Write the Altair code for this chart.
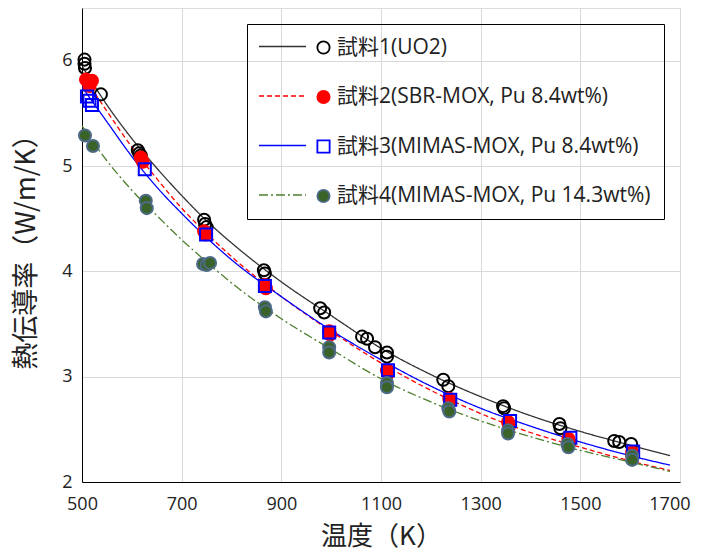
import altair as alt
import pandas as pd

FONT = "Open Sans, Noto Sans CJK JP, sans-serif"
CJK = "Noto Sans CJK JP"

series_labels = [
    "試料1(UO2)",
    "試料2(SBR-MOX, Pu 8.4wt%)",
    "試料3(MIMAS-MOX, Pu 8.4wt%)",
    "試料4(MIMAS-MOX, Pu 14.3wt%)",
]
curve_ids = ["c1", "c2", "c3", "c4"]

# fitted curves
curve_T = [500, 550, 600, 650, 700, 750, 800, 900, 1000, 1100, 1200, 1300, 1400, 1500, 1600, 1680]
curve_k1 = [5.95, 5.58, 5.26, 4.98, 4.72, 4.48, 4.27, 3.90, 3.58, 3.27, 3.02, 2.81, 2.63, 2.48, 2.35, 2.25]
curve_k2 = [5.88, 5.52, 5.18, 4.88, 4.60, 4.36, 4.14, 3.76, 3.43, 3.13, 2.87, 2.65, 2.47, 2.33, 2.20, 2.11]
curve_k3 = [5.75, 5.42, 5.09, 4.80, 4.55, 4.32, 4.11, 3.76, 3.44, 3.16, 2.91, 2.70, 2.53, 2.38, 2.25, 2.16]
curve_k4 = [5.38, 5.05, 4.77, 4.53, 4.30, 4.09, 3.89, 3.55, 3.26, 2.98, 2.76, 2.58, 2.43, 2.30, 2.19, 2.10]

# measured points
s1_T = [505, 505, 506, 538, 612, 615, 618, 745, 747, 750, 865, 867, 978, 986, 1062, 1072, 1088, 1112, 1112,
        1225, 1235, 1345, 1347, 1458, 1460, 1568, 1578, 1602]
s1_k = [6.01, 5.97, 5.93, 5.68, 5.15, 5.12, 5.10, 4.49, 4.45, 4.42, 4.01, 3.98, 3.65, 3.61, 3.38, 3.36, 3.28, 3.23, 3.19,
        2.97, 2.91, 2.72, 2.70, 2.55, 2.51, 2.39, 2.38, 2.36]
s2_T = [508, 520, 515, 618, 622, 745, 748, 867, 869, 996, 998, 1112, 1114, 1237, 1239, 1355, 1357, 1476, 1478, 1604, 1604]
s2_k = [5.82, 5.81, 5.76, 5.08, 5.04, 4.38, 4.35, 3.87, 3.84, 3.43, 3.40, 3.06, 3.03, 2.79, 2.76, 2.57, 2.53, 2.41, 2.38, 2.28, 2.25]
s3_T = [510, 515, 520, 626, 749, 867, 996, 1114, 1239, 1359, 1480, 1606]
s3_k = [5.66, 5.62, 5.58, 4.97, 4.35, 3.86, 3.42, 3.06, 2.78, 2.58, 2.42, 2.29]
s4_T = [506, 522, 628, 630, 743, 750, 757, 867, 869, 996, 996, 1112, 1112, 1235, 1237, 1355, 1355, 1474, 1476, 1604, 1604]
s4_k = [5.29, 5.19, 4.67, 4.60, 4.07, 4.06, 4.08, 3.66, 3.62, 3.28, 3.23, 2.94, 2.90, 2.70, 2.67, 2.49, 2.46, 2.36, 2.33, 2.25, 2.21]

x_ticks = [500, 700, 900, 1100, 1300, 1500, 1700]
y_ticks = [2, 3, 4, 5, 6]

line_colors = ["#333333", "#ff0000", "#0000ff", "#4f7f2f"]
line_dashes = [[1, 0], [5, 3], [1, 0], [9, 3, 2, 3]]
marker_shapes = ["circle", "circle", "square", "circle"]
marker_fills = ["transparent", "#ff0000", "transparent", "#3a632a"]
marker_strokes = ["#000000", "#ff0000", "#0000ff", "#4d6b86"]

curves = [curve_k1, curve_k2, curve_k3, curve_k4]
curve_df = pd.DataFrame(
    [{"T": t, "k": k, "曲線": cid, "o": i} for cid, ks in zip(curve_ids, curves) for i, (t, k) in enumerate(zip(curve_T, ks))]
)
pts = [(s1_T, s1_k), (s2_T, s2_k), (s3_T, s3_k), (s4_T, s4_k)]
pt_df = pd.DataFrame(
    [{"T": t, "k": k, "試料": lab} for lab, (ts, ks) in zip(series_labels, pts) for t, k in zip(ts, ks)]
)

x_scale = alt.Scale(domain=[500, 1700], nice=False, zero=False)
y_scale = alt.Scale(domain=[2, 6.5], nice=False, zero=False)

x_axis = alt.Axis(
    title="温度（K）", values=x_ticks, format="d", ticks=False, labelPadding=13, labelFontSize=18, labelFont=FONT,
    labelColor="#222", titleFont=CJK, titleFontSize=26, titleFontWeight="normal", titleColor="#222",
    titleX=299, titleY=41, titleBaseline="top", titleAlign="center",
    labelAlign={"condition": {"test": "datum.value == 1700", "value": "right"}, "value": "center"},
    labelOffset={"condition": {"test": "datum.value == 1700", "value": 10}, "value": 0},
    grid=True, gridColor="#d9d9d9", domainColor="#000", labelFlush=False,
)
y_axis = alt.Axis(
    title="熱伝導率（W/m/K）", values=y_ticks, format="d", ticks=False, labelPadding=10, labelFontSize=18, labelFont=FONT,
    labelColor="#222", titleFont=CJK, titleFontSize=27, titleFontWeight="normal", titleColor="#222",
    titleX=-42, titleY=237, titleBaseline="bottom", titleAlign="center", titleAngle=270,
    grid=True, gridColor="#d9d9d9", domainColor="#000", labelFlush=False,
)

legend_lines = alt.Legend(
    title=None, orient="none", legendX=176, legendY=14, symbolType="stroke", symbolSize=2209,
    symbolStrokeWidth=1.3, padding=0, rowPadding=14.5, labelFontSize=21, labelFont=FONT,
    labelColor="transparent", labelLimit=600,
)
legend_pts = alt.Legend(
    title=None, orient="none", legendX=165, legendY=16, padding=13, rowPadding=27.5, symbolSize=150,
    symbolOffset=53, labelOffset=3, labelFontSize=21, labelFont=FONT, labelColor="#222", labelLimit=600,
    strokeColor="#000", symbolStrokeWidth=1.8,
)

lines = alt.Chart(curve_df).mark_line(strokeWidth=1.3, interpolate="monotone", clip=True).encode(
    x=alt.X("T:Q", scale=x_scale, axis=x_axis),
    y=alt.Y("k:Q", scale=y_scale, axis=y_axis),
    order="o:Q",
    color=alt.Color("曲線:N", scale=alt.Scale(domain=curve_ids, range=line_colors), legend=legend_lines),
    strokeDash=alt.StrokeDash("曲線:N", scale=alt.Scale(domain=curve_ids, range=line_dashes), legend=legend_lines),
)

points = alt.Chart(pt_df).mark_point(size=145, opacity=1, strokeWidth=2).encode(
    x=alt.X("T:Q", scale=x_scale),
    y=alt.Y("k:Q", scale=y_scale),
    shape=alt.Shape("試料:N", scale=alt.Scale(domain=series_labels, range=marker_shapes), legend=legend_pts),
    fill=alt.Fill("試料:N", scale=alt.Scale(domain=series_labels, range=marker_fills), legend=legend_pts),
    stroke=alt.Stroke("試料:N", scale=alt.Scale(domain=series_labels, range=marker_strokes), legend=legend_pts),
)

chart = alt.layer(lines, points).properties(
    width=598, height=474,
    autosize=alt.AutoSizeParams(type="none"),
    padding={"left": 74, "top": 0, "right": 15, "bottom": 71},
).configure_view(stroke="#000", strokeWidth=1).configure(background="white")

chart.save("out.html", embed_options={"renderer": "svg", "actions": False})
